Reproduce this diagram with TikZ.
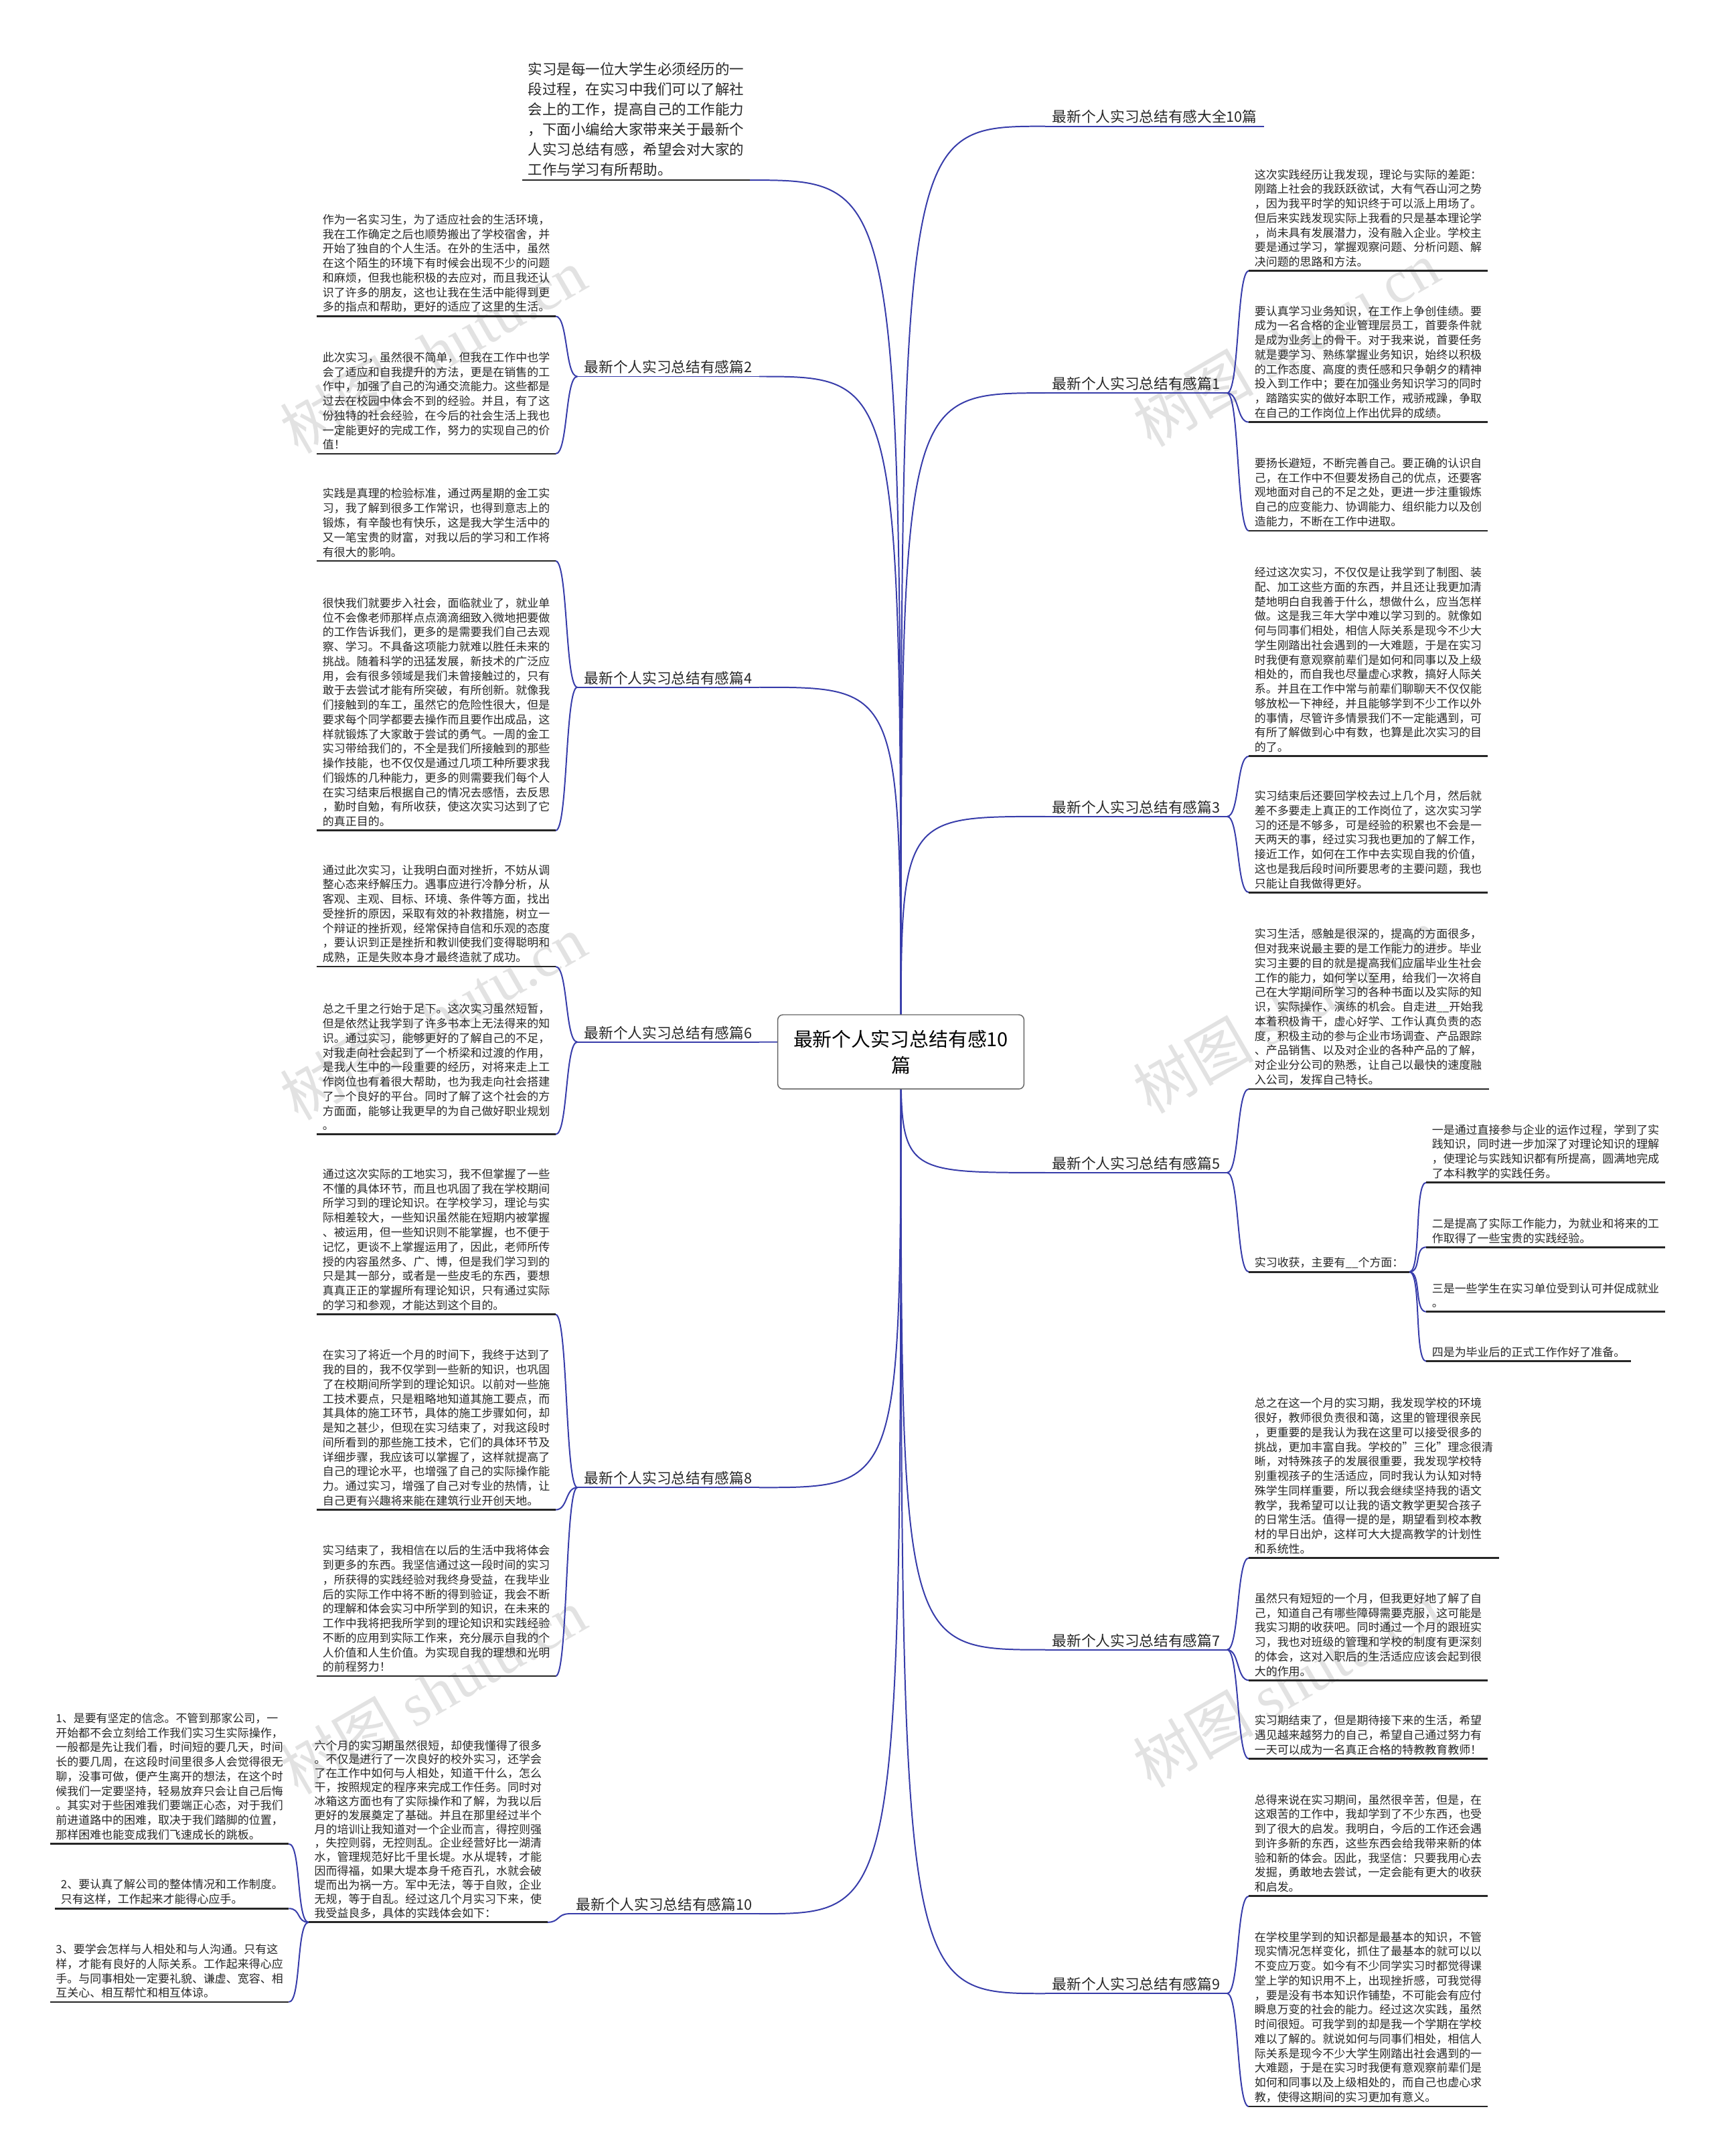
\documentclass[tikz,border=0pt]{standalone}
\usepackage{fontspec}
\setmainfont{Noto Sans CJK SC}
\newfontfamily\wmlatin{Liberation Serif}
\definecolor{linkblue}{RGB}{55,60,170}
\definecolor{rootline}{RGB}{100,100,100}
\definecolor{wmgray}{RGB}{226,226,226}
\newcommand{\leaffont}{\fontsize{9.4}{12.05}\selectfont}
\newcommand{\tightfont}{\fontsize{9.4}{11.55}\selectfont}
\newcommand{\introfont}{\fontsize{11.9}{16.6}\selectfont}
\newcommand{\branchfont}{\fontsize{12}{14}\selectfont}
\newcommand{\rootfont}{\fontsize{16}{21.6}\selectfont}

\begin{document}
\begin{tikzpicture}[x=0.04cm,y=-0.04cm,
  link/.style={draw=linkblue,line width=1.1pt},
  ulline/.style={draw=black!85,line width=1.5pt},
  leafR/.style={anchor=south west,align=left,inner xsep=0.16cm,inner ysep=3pt,text=black!85,font=\leaffont},
  leafL/.style={leafR,anchor=south east},
  branch/.style={inner xsep=0.2cm,inner ysep=2pt,text=black!85,font=\branchfont},
  wmark/.style={rotate=30,text=wmgray,font=\fontsize{50}{50}\selectfont},
  rootbox/.style={draw=rootline,fill=white,rounded corners=0.15cm,line width=0.8pt,align=center,
    minimum width=7.16cm,minimum height=2.16cm,font=\rootfont}]
  % canvas in pixels of the 1246 x 1568 view
  \useasboundingbox (0,0) rectangle (1246,1568);
  \foreach \wx/\wy [count=\i] in {315/255,315/740,315/1230,935/250,935/735,935/1225}
    \node[wmark] (wm\i) at (\wx,\wy) {树图 {\wmlatin shutu.cn}};
  \coordinate (hub) at (655,765);

  % branch labels
  \node[branch,anchor=west] (b0) at (760,85) {最新个人实习总结有感大全10篇};
  \node[branch,anchor=west] (b1) at (760,279) {最新个人实习总结有感篇1};
  \node[branch,anchor=west] (b3) at (760,587) {最新个人实习总结有感篇3};
  \node[branch,anchor=west] (b5) at (760,846) {最新个人实习总结有感篇5};
  \node[branch,anchor=west] (b7) at (760,1193) {最新个人实习总结有感篇7};
  \node[branch,anchor=west] (b9) at (760,1443) {最新个人实习总结有感篇9};
  \node[branch,anchor=east] (b2) at (552,267) {最新个人实习总结有感篇2};
  \node[branch,anchor=east] (b4) at (552,493) {最新个人实习总结有感篇4};
  \node[branch,anchor=east] (b6) at (552,751) {最新个人实习总结有感篇6};
  \node[branch,anchor=east] (b8) at (552,1075) {最新个人实习总结有感篇8};
  \node[branch,anchor=east] (b10) at (552,1385) {最新个人实习总结有感篇10};

  \node[leafL,font=\introfont] (intro) at (545,131) {实习是每一位大学生必须经历的一\\段过程，在实习中我们可以了解社\\会上的工作，提高自己的工作能力\\，下面小编给大家带来关于最新个\\人实习总结有感，希望会对大家的\\工作与学习有所帮助。};

  % right leaves
  \node[leafR] (b1a) at (908,197) {这次实践经历让我发现，理论与实际的差距：\\刚踏上社会的我跃跃欲试，大有气吞山河之势\\，因为我平时学的知识终于可以派上用场了。\\但后来实践发现实际上我看的只是基本理论学\\，尚未具有发展潜力，没有融入企业。学校主\\要是通过学习，掌握观察问题、分析问题、解\\决问题的思路和方法。};
  \node[leafR] (b1b) at (908,307) {要认真学习业务知识，在工作上争创佳绩。要\\成为一名合格的企业管理层员工，首要条件就\\是成为业务上的骨干。对于我来说，首要任务\\就是要学习、熟练掌握业务知识，始终以积极\\的工作态度、高度的责任感和只争朝夕的精神\\投入到工作中；要在加强业务知识学习的同时\\，踏踏实实的做好本职工作，戒骄戒躁，争取\\在自己的工作岗位上作出优异的成绩。};
  \node[leafR] (b1c) at (908,386) {要扬长避短，不断完善自己。要正确的认识自\\己，在工作中不但要发扬自己的优点，还要客\\观地面对自己的不足之处，更进一步注重锻炼\\自己的应变能力、协调能力、组织能力以及创\\造能力，不断在工作中进取。};
  \node[leafR] (b3a) at (908,550) {经过这次实习，不仅仅是让我学到了制图、装\\配、加工这些方面的东西，并且还让我更加清\\楚地明白自我善于什么，想做什么，应当怎样\\做。这是我三年大学中难以学习到的。就像如\\何与同事们相处，相信人际关系是现今不少大\\学生刚踏出社会遇到的一大难题，于是在实习\\时我便有意观察前辈们是如何和同事以及上级\\相处的，而自我也尽量虚心求教，搞好人际关\\系。并且在工作中常与前辈们聊聊天不仅仅能\\够放松一下神经，并且能够学到不少工作以外\\的事情，尽管许多情景我们不一定能遇到，可\\有所了解做到心中有数，也算是此次实习的目\\的了。};
  \node[leafR] (b3b) at (908,649) {实习结束后还要回学校去过上几个月，然后就\\差不多要走上真正的工作岗位了，这次实习学\\习的还是不够多，可是经验的积累也不会是一\\天两天的事，经过实习我也更加的了解工作，\\接近工作，如何在工作中去实现自我的价值，\\这也是我后段时间所要思考的主要问题，我也\\只能让自我做得更好。};
  \node[leafR] (b5a) at (908,792) {实习生活，感触是很深的，提高的方面很多，\\但对我来说最主要的是工作能力的进步。毕业\\实习主要的目的就是提高我们应届毕业生社会\\工作的能力，如何学以至用，给我们一次将自\\己在大学期间所学习的各种书面以及实际的知\\识，实际操作、演练的机会。自走进\_\_开始我\\本着积极肯干，虚心好学、工作认真负责的态\\度，积极主动的参与企业市场调查、产品跟踪\\、产品销售、以及对企业的各种产品的了解，\\对企业分公司的熟悉，让自己以最快的速度融\\入公司，发挥自己特长。};
  \node[leafR] (b5b) at (908,925) {实习收获，主要有\_\_个方面：};
  \node[leafR] (b5c) at (1037,860) {一是通过直接参与企业的运作过程，学到了实\\践知识，同时进一步加深了对理论知识的理解\\，使理论与实践知识都有所提高，圆满地完成\\了本科教学的实践任务。};
  \node[leafR] (b5d) at (1037,907) {二是提高了实际工作能力，为就业和将来的工\\作取得了一些宝贵的实践经验。};
  \node[leafR] (b5e) at (1037,954) {三是一些学生在实习单位受到认可并促成就业\\。};
  \node[leafR] (b5f) at (1037,990) {四是为毕业后的正式工作作好了准备。};
  \node[leafR] (b7a) at (908,1133) {总之在这一个月的实习期，我发现学校的环境\\很好，教师很负责很和蔼，这里的管理很亲民\\，更重要的是我认为我在这里可以接受很多的\\挑战，更加丰富自我。学校的"三化"理念很清\\晰，对特殊孩子的发展很重要，我发现学校特\\别重视孩子的生活适应，同时我认为认知对特\\殊学生同样重要，所以我会继续坚持我的语文\\教学，我希望可以让我的语文教学更契合孩子\\的日常生活。值得一提的是，期望看到校本教\\材的早日出炉，这样可大大提高教学的计划性\\和系统性。};
  \node[leafR] (b7b) at (908,1222) {虽然只有短短的一个月，但我更好地了解了自\\己，知道自己有哪些障碍需要克服，这可能是\\我实习期的收获吧。同时通过一个月的跟班实\\习，我也对班级的管理和学校的制度有更深刻\\的体会，这对入职后的生活适应应该会起到很\\大的作用。};
  \node[leafR] (b7c) at (908,1279) {实习期结束了，但是期待接下来的生活，希望\\遇见越来越努力的自己，希望自己通过努力有\\一天可以成为一名真正合格的特教教育教师！};
  \node[leafR] (b9a) at (908,1379) {总得来说在实习期间，虽然很辛苦，但是，在\\这艰苦的工作中，我却学到了不少东西，也受\\到了很大的启发。我明白，今后的工作还会遇\\到许多新的东西，这些东西会给我带来新的体\\验和新的体会。因此，我坚信：只要我用心去\\发掘，勇敢地去尝试，一定会能有更大的收获\\和启发。};
  \node[leafR] (b9b) at (908,1532) {在学校里学到的知识都是最基本的知识，不管\\现实情况怎样变化，抓住了最基本的就可以以\\不变应万变。如今有不少同学实习时都觉得课\\堂上学的知识用不上，出现挫折感，可我觉得\\，要是没有书本知识作铺垫，不可能会有应付\\瞬息万变的社会的能力。经过这次实践，虽然\\时间很短。可我学到的却是我一个学期在学校\\难以了解的。就说如何与同事们相处，相信人\\际关系是现今不少大学生刚踏出社会遇到的一\\大难题，于是在实习时我便有意观察前辈们是\\如何和同事以及上级相处的，而自己也虚心求\\教，使得这期间的实习更加有意义。};

  % left leaves
  \node[leafL] (b2a) at (404,230) {作为一名实习生，为了适应社会的生活环境，\\我在工作确定之后也顺势搬出了学校宿舍，并\\开始了独自的个人生活。在外的生活中，虽然\\在这个陌生的环境下有时候会出现不少的问题\\和麻烦，但我也能积极的去应对，而且我还认\\识了许多的朋友，这也让我在生活中能得到更\\多的指点和帮助，更好的适应了这里的生活。};
  \node[leafL] (b2b) at (404,330) {此次实习，虽然很不简单，但我在工作中也学\\会了适应和自我提升的方法，更是在销售的工\\作中，加强了自己的沟通交流能力。这些都是\\过去在校园中体会不到的经验。并且，有了这\\份独特的社会经验，在今后的社会生活上我也\\一定能更好的完成工作，努力的实现自己的价\\值！};
  \node[leafL] (b4a) at (404,408) {实践是真理的检验标准，通过两星期的金工实\\习，我了解到很多工作常识，也得到意志上的\\锻炼，有辛酸也有快乐，这是我大学生活中的\\又一笔宝贵的财富，对我以后的学习和工作将\\有很大的影响。};
  \node[leafL] (b4b) at (404,604) {很快我们就要步入社会，面临就业了，就业单\\位不会像老师那样点点滴滴细致入微地把要做\\的工作告诉我们，更多的是需要我们自己去观\\察、学习。不具备这项能力就难以胜任未来的\\挑战。随着科学的迅猛发展，新技术的广泛应\\用，会有很多领域是我们未曾接触过的，只有\\敢于去尝试才能有所突破，有所创新。就像我\\们接触到的车工，虽然它的危险性很大，但是\\要求每个同学都要去操作而且要作出成品，这\\样就锻炼了大家敢于尝试的勇气。一周的金工\\实习带给我们的，不全是我们所接触到的那些\\操作技能，也不仅仅是通过几项工种所要求我\\们锻炼的几种能力，更多的则需要我们每个人\\在实习结束后根据自己的情况去感悟，去反思\\，勤时自勉，有所收获，使这次实习达到了它\\的真正目的。};
  \node[leafL] (b6a) at (404,703) {通过此次实习，让我明白面对挫折，不妨从调\\整心态来纾解压力。遇事应进行冷静分析，从\\客观、主观、目标、环境、条件等方面，找出\\受挫折的原因，采取有效的补救措施，树立一\\个辩证的挫折观，经常保持自信和乐观的态度\\，要认识到正是挫折和教训使我们变得聪明和\\成熟，正是失败本身才最终造就了成功。};
  \node[leafL] (b6b) at (404,825) {总之千里之行始于足下。这次实习虽然短暂，\\但是依然让我学到了许多书本上无法得来的知\\识。通过实习，能够更好的了解自己的不足，\\对我走向社会起到了一个桥梁和过渡的作用，\\是我人生中的一段重要的经历，对将来走上工\\作岗位也有着很大帮助，也为我走向社会搭建\\了一个良好的平台。同时了解了这个社会的方\\方面面，能够让我更早的为自己做好职业规划\\。};
  \node[leafL] (b8a) at (404,956) {通过这次实际的工地实习，我不但掌握了一些\\不懂的具体环节，而且也巩固了我在学校期间\\所学习到的理论知识。在学校学习，理论与实\\际相差较大，一些知识虽然能在短期内被掌握\\、被运用，但一些知识则不能掌握，也不便于\\记忆，更谈不上掌握运用了，因此，老师所传\\授的内容虽然多、广、博，但是我们学习到的\\只是其一部分，或者是一些皮毛的东西，要想\\真真正正的掌握所有理论知识，只有通过实际\\的学习和参观，才能达到这个目的。};
  \node[leafL] (b8b) at (404,1098) {在实习了将近一个月的时间下，我终于达到了\\我的目的，我不仅学到一些新的知识，也巩固\\了在校期间所学到的理论知识。以前对一些施\\工技术要点，只是粗略地知道其施工要点，而\\其具体的施工环节，具体的施工步骤如何，却\\是知之甚少，但现在实习结束了，对我这段时\\间所看到的那些施工技术，它们的具体环节及\\详细步骤，我应该可以掌握了，这样就提高了\\自己的理论水平，也增强了自己的实际操作能\\力。通过实习，增强了自己对专业的热情，让\\自己更有兴趣将来能在建筑行业开创天地。};
  \node[leafL] (b8c) at (404,1219) {实习结束了，我相信在以后的生活中我将体会\\到更多的东西。我坚信通过这一段时间的实习\\，所获得的实践经验对我终身受益，在我毕业\\后的实际工作中将不断的得到验证，我会不断\\的理解和体会实习中所学到的知识，在未来的\\工作中我将把我所学到的理论知识和实践经验\\不断的应用到实际工作来，充分展示自我的个\\人价值和人生价值。为实现自我的理想和光明\\的前程努力！};
  \node[leafL,font=\tightfont] (b10a) at (398,1398) {六个月的实习期虽然很短，却使我懂得了很多\\。不仅是进行了一次良好的校外实习，还学会\\了在工作中如何与人相处，知道干什么，怎么\\干，按照规定的程序来完成工作任务。同时对\\冰箱这方面也有了实际操作和了解，为我以后\\更好的发展奠定了基础。并且在那里经过半个\\月的培训让我知道对一个企业而言，得控则强\\，失控则弱，无控则乱。企业经营好比一湖清\\水，管理规范好比千里长堤。水从堤转，才能\\因而得福，如果大堤本身千疮百孔，水就会破\\堤而出为祸一方。军中无法，等于自败，企业\\无规，等于自乱。经过这几个月实习下来，使\\我受益良多，具体的实践体会如下：};
  \node[leafL] (b10b) at (210,1341) {1、是要有坚定的信念。不管到那家公司，一\\开始都不会立刻给工作我们实习生实际操作，\\一般都是先让我们看，时间短的要几天，时间\\长的要几周，在这段时间里很多人会觉得很无\\聊，没事可做，便产生离开的想法，在这个时\\候我们一定要坚持，轻易放弃只会让自己后悔\\。其实对于些困难我们要端正心态，对于我们\\前进道路中的困难，取决于我们踏脚的位置，\\那样困难也能变成我们飞速成长的跳板。};
  \node[leafL] (b10c) at (210,1388) {2、要认真了解公司的整体情况和工作制度。\\只有这样，工作起来才能得心应手。};
  \node[leafL] (b10d) at (210,1456) {3、要学会怎样与人相处和与人沟通。只有这\\样，才能有良好的人际关系。工作起来得心应\\手。与同事相处一定要礼貌、谦虚、宽容、相\\互关心、相互帮忙和相互体谅。};

  % connectors from the centre
  \foreach \n in {b0,b1,b3,b5,b7,b9}
    \draw[link] (hub) .. controls (hub |- \n.south west) .. (\n.south west);
  \foreach \n in {b2,b4,b6,b8,b10}
    \draw[link] (hub) .. controls (hub |- \n.south east) .. (\n.south east);
  \draw[link] (hub) .. controls (hub |- intro.south east) .. (intro.south east);
  \foreach \n in {b0,b1,b2,b3,b4,b5,b6,b7,b8,b9,b10}
    \draw[link] (\n.south west) -- (\n.south east);

  % brackets to the leaves
  \foreach \p/\n in {b1/b1a,b1/b1b,b1/b1c,b3/b3a,b3/b3b,b5/b5a,b5/b5b,b7/b7a,b7/b7b,b7/b7c,b9/b9a,b9/b9b,b5b/b5c,b5b/b5d,b5b/b5e,b5b/b5f}
    \draw[link] (\p.south east) .. controls +(9,0) and +(-9,0) .. (\n.south west);
  \foreach \p/\n in {b2/b2a,b2/b2b,b4/b4a,b4/b4b,b6/b6a,b6/b6b,b8/b8a,b8/b8b,b8/b8c,b10/b10a,b10a/b10b,b10a/b10c,b10a/b10d}
    \draw[link] (\p.south west) .. controls +(-9,0) and +(9,0) .. (\n.south east);
  \foreach \n in {intro,b1a,b1b,b1c,b3a,b3b,b5a,b5b,b5c,b5d,b5e,b5f,b7a,b7b,b7c,b9a,b9b,b2a,b2b,b4a,b4b,b6a,b6b,b8a,b8b,b8c,b10a,b10b,b10c,b10d}
    \draw[ulline] (\n.south west) -- (\n.south east);

  \node[rootbox] (root) at (hub) {最新个人实习总结有感10\\篇};
\end{tikzpicture}
\end{document}
